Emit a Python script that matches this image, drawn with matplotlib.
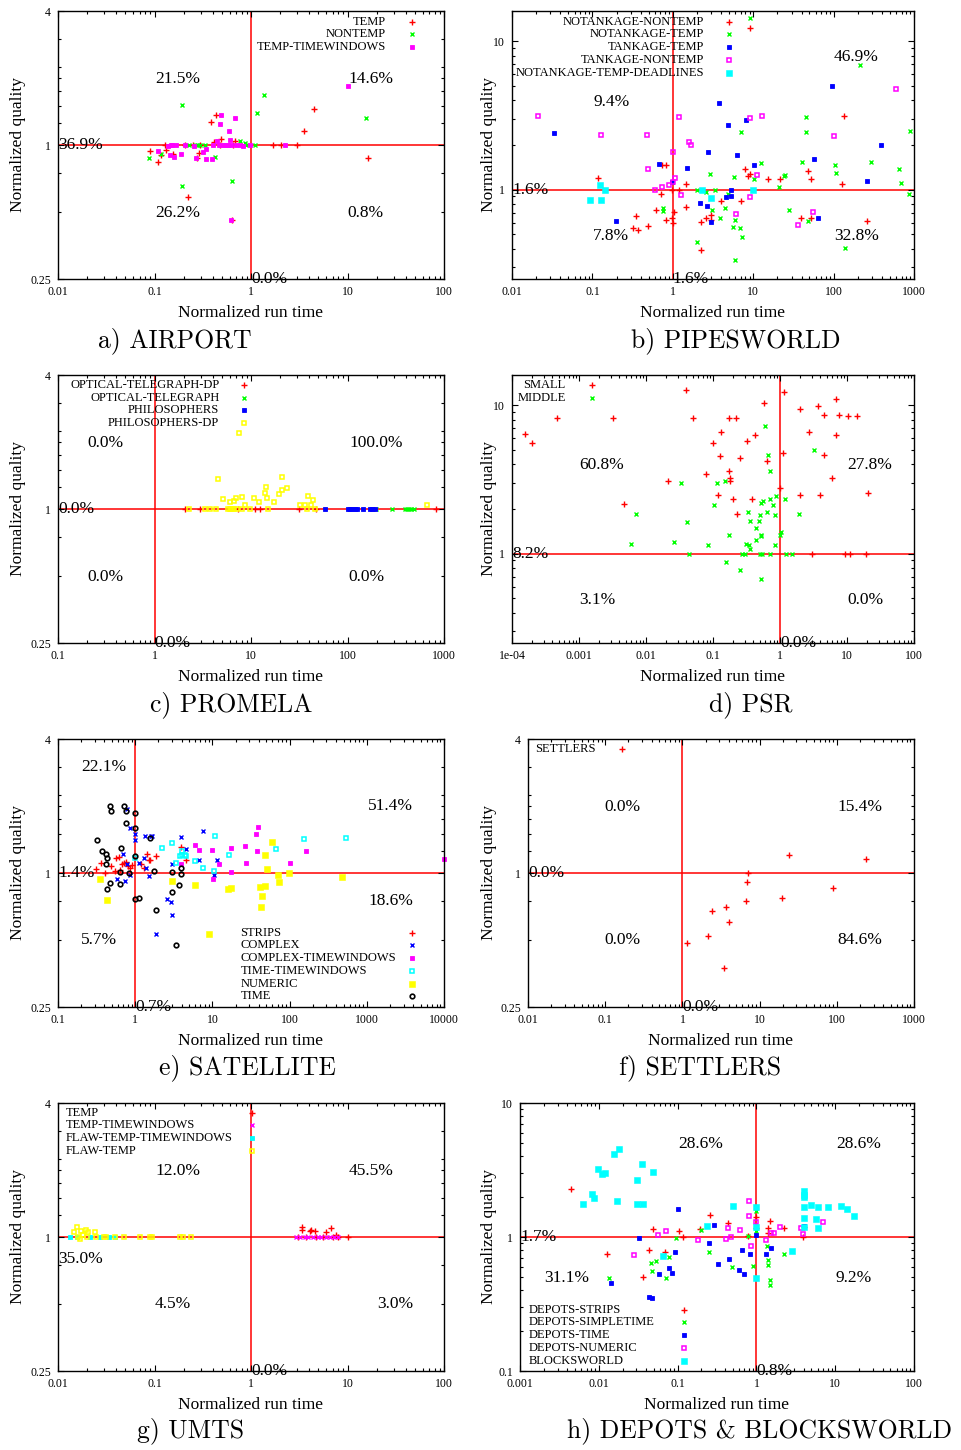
import matplotlib
matplotlib.use('Agg')
import matplotlib.pyplot as plt
from matplotlib.ticker import FixedLocator, NullFormatter, LogLocator
import numpy as np

plt.rcParams['font.family'] = ['Liberation Serif', 'DejaVu Serif']

RED = '#ff0000'
GREEN = '#00ff00'
BLUE = '#0000ff'
MAGENTA = '#ff00ff'
CYAN = '#00ffff'
YELLOW = '#ffff00'
BLACK = '#000000'

# ---------------- a) AIRPORT ----------------
airport_temp_x = [0.090, 0.108, 0.118, 0.127, 0.133, 0.156, 0.222, 0.276, 0.289, 0.251, 0.382, 0.430, 0.493,
                  0.414, 0.473, 0.650, 0.677, 0.641, 1.69, 2.03, 3.00, 3.54, 4.53, 16.2, 0.294, 0.206]
airport_temp_y = [0.943, 0.836, 0.902, 1.0, 0.946, 0.914, 0.582, 0.871, 0.924, 1.0, 1.264, 1.359, 1.064,
                  1.035, 1.0, 1.0, 1.046, 0.460, 1.0, 1.0, 1.0, 1.160, 1.451, 0.877, 1.0, 1.0]
airport_nontemp_x = [0.088, 0.118, 0.191, 0.191, 0.228, 0.278, 0.331, 0.420, 0.641, 0.763, 0.860, 0.895, 1.09,
                     1.16, 1.35, 15.6, 0.294, 0.493, 0.261]
airport_nontemp_y = [0.871, 0.914, 1.513, 0.654, 1.0, 1.0, 1.0, 0.883, 0.687, 1.039, 1.021, 1.0, 1.0,
                     1.393, 1.671, 1.318, 1.0, 1.0, 1.0]
airport_tw_x = [0.108, 0.138, 0.144, 0.153, 0.158, 0.168, 0.190, 0.206, 0.255, 0.272, 0.318, 0.344, 0.344,
                0.391, 0.444, 0.462, 0.481, 0.493, 0.555, 0.591, 0.601, 0.625, 0.677, 0.705, 0.763, 0.826,
                0.969, 2.23, 10.0, 0.620, 0.149, 0.404, 0.513, 0.578]
airport_tw_y = [0.943, 0.986, 0.905, 1.0, 0.880, 1.0, 0.914, 1.0, 0.986, 0.871, 0.927, 0.956, 0.868,
                0.868, 1.039, 1.0, 1.238, 1.359, 1.0, 1.160, 1.057, 1.0, 1.327, 1.0, 1.0, 0.986,
                1.0, 1.0, 1.848, 0.460, 1.0, 1.0, 1.0, 1.0]
airport_pct = ['21.5%', '14.6%', '26.2%', '0.8%', '36.9%', '0.0%']

# ---------------- b) PIPESWORLD ----------------
pipes_nn_x = [0.116, 0.320, 0.373, 0.345, 0.496, 0.624, 0.719, 0.741, 0.831, 0.831, 0.987, 1.0, 1.035, 0.987,
              1.19, 1.47, 1.47, 2.22, 2.61, 3.01, 3.01, 4.01, 6.98, 7.98, 8.70, 9.22, 15.3, 21.3, 39.3, 52.8,
              47.6, 52.8, 129, 135, 262, 2.22, 9.02]
pipes_nn_y = [1.19, 0.553, 0.533, 0.669, 0.565, 0.727, 0.930, 1.464, 1.457, 0.626, 0.646, 0.594, 0.708, 1.0,
              1.0, 1.097, 0.765, 0.601, 0.646, 0.673, 0.626, 0.835, 0.835, 1.376, 1.235, 1.274, 1.173, 1.173,
              0.646, 0.646, 1.327, 1.173, 1.097, 3.15, 0.616, 0.394, 12.3]
pipes_nt_x = [0.748, 0.748, 2.0, 2.56, 2.93, 3.10, 3.32, 3.91, 4.46, 4.91, 5.77, 5.94, 5.61, 6.79, 6.98, 7.33,
              10.2, 12.4, 20.7, 23.9, 24.9, 27.6, 40.4, 45.8, 45.8, 48.0, 104, 106, 137, 211, 295, 646, 684,
              868, 885, 2.0, 6.0, 9.02]
pipes_nt_y = [0.753, 0.723, 1.0, 0.965, 1.274, 0.727, 1.0, 0.642, 0.749, 0.930, 1.222, 0.626, 0.562, 0.550,
              2.44, 0.481, 1.173, 1.502, 1.047, 1.235, 1.254, 0.734, 1.534, 3.07, 2.44, 0.616, 1.464, 1.30,
              0.402, 6.87, 1.534, 1.376, 1.108, 0.935, 2.48, 0.445, 0.334, 14.4]
pipes_tt_x = [0.0336, 0.195, 0.667, 0.987, 1.49, 2.16, 2.69, 2.74, 2.99, 3.76, 4.86, 4.63, 5.25, 5.25, 6.35,
              8.22, 10.2, 56.5, 94.6, 262, 385, 64.6]
pipes_tt_y = [2.40, 0.616, 1.494, 1.126, 1.398, 0.818, 0.777, 1.808, 0.601, 3.81, 2.73, 0.898, 0.907, 1.0,
              1.717, 2.96, 1.471, 1.598, 4.96, 1.149, 2.0, 0.646]
pipes_tn_x = [0.0208, 0.129, 0.478, 0.491, 0.607, 0.727, 0.897, 1.0, 1.0, 1.065, 1.18, 1.26, 1.57, 1.68, 6.05,
              9.22, 9.22, 11.0, 12.7, 36.1, 56.0, 101, 603]
pipes_tn_y = [3.14, 2.34, 2.35, 1.369, 1.0, 1.047, 1.069, 1.12, 1.80, 1.204, 3.09, 0.916, 2.08, 2.0, 0.683,
              0.888, 3.06, 1.254, 3.14, 0.579, 0.712, 2.30, 4.79]
pipes_dl_x = [0.0933, 0.125, 0.129, 0.143, 2.33, 3.01, 9.93]
pipes_dl_y = [0.857, 1.08, 0.857, 1.0, 1.0, 0.879, 1.0]
pipes_pct = ['9.4%', '46.9%', '7.8%', '32.8%', '1.6%', '1.6%']

# ---------------- c) PROMELA ----------------
prom_otdp_x = [2.05, 2.94, 7.33, 11.1, 12.5, 31.4, 47.5, 819]
prom_otdp_y = [1.0, 1.0, 1.0, 1.0, 1.0, 1.0, 1.0, 1.0]
prom_ot_x = [199, 292, 391, 414, 434, 459, 485]
prom_ot_y = [1.0, 1.0, 1.0, 1.0, 1.0, 1.0, 1.0]
prom_ph_x = [58.0, 101, 107, 112, 119, 125, 145, 173, 181, 191]
prom_ph_y = [1.0, 1.0, 1.0, 1.0, 1.0, 1.0, 1.0, 1.0, 1.0, 1.0]
prom_phdp_x = [2.26, 3.31, 3.79, 4.31, 4.52, 5.13, 6.01, 6.11, 6.41, 6.61, 6.99, 7.16, 7.45, 8.13, 8.07, 8.60,
               9.68, 10.8, 12.0, 14.2, 14.0, 14.7, 15.1, 17.2, 19.5, 21.0, 21.1, 23.4, 31.9, 36.0, 38.0, 38.9,
               42.2, 43.9, 45.7, 672, 5.8, 6.2, 6.6]
prom_phdp_y = [1.0, 1.0, 1.0, 1.0, 1.359, 1.105, 1.0, 1.071, 1.0, 1.090, 1.124, 1.0, 2.195, 1.128, 1.0, 1.046,
               1.0, 1.117, 1.071, 1.251, 1.180, 1.117, 1.0, 1.075, 1.164, 1.222, 1.393, 1.242, 1.042, 1.042,
               1.0, 1.144, 1.042, 1.094, 1.0, 1.039, 1.0, 1.0, 1.0]
prom_pct = ['0.0%', '100.0%', '0.0%', '0.0%', '0.0%', '0.0%']

# ---------------- d) PSR ----------------
psr_small_x = [1.55e-4, 1.99e-4, 4.69e-4, 3.25e-3, 4.70e-3, 0.0216, 0.0396, 0.0498, 0.0795, 0.1, 0.117, 0.129,
               0.133, 0.173, 0.175, 0.181, 0.181, 0.201, 0.220, 0.231, 0.250, 0.318, 0.378, 0.424, 0.577, 0.647,
               1.0, 1.10, 1.15, 1.97, 2.01, 2.68, 3.01, 3.65, 3.95, 4.48, 4.48, 5.97, 6.78, 6.93, 7.51, 9.45,
               10.5, 11.0, 13.9, 19.4, 20.8]
psr_small_y = [6.36, 5.54, 8.23, 8.27, 2.17, 3.08, 12.7, 8.19, 3.43, 5.54, 2.48, 4.55, 6.56, 3.61, 8.19, 3.26,
               3.11, 2.34, 8.19, 1.86, 4.42, 5.71, 2.34, 6.33, 10.3, 4.24, 2.75, 4.75, 12.2, 9.45, 2.50, 6.56,
               1.0, 9.85, 2.50, 8.66, 4.65, 3.26, 11.0, 6.33, 8.66, 1.0, 8.44, 1.0, 8.44, 1.0, 2.57]
psr_middle_x = [5.9e-3, 7.09e-3, 0.0262, 0.0337, 0.0405, 0.0438, 0.0842, 0.105, 0.115, 0.149, 0.158, 0.173,
                0.250, 0.274, 0.300, 0.307, 0.337, 0.345, 0.353, 0.361, 0.433, 0.433, 0.486, 0.497, 0.508,
                0.515, 0.520, 0.526, 0.526, 0.532, 0.557, 0.604, 0.647, 0.662, 0.701, 0.710, 0.710, 0.787,
                0.832, 0.842, 0.871, 1.0, 1.02, 1.19, 1.24, 1.49, 1.92, 3.18]
psr_middle_y = [1.16, 1.85, 1.20, 3.00, 1.64, 1.0, 1.14, 2.13, 3.00, 3.11, 0.875, 1.34, 0.781, 1.0, 1.0, 1.17,
                1.92, 1.14, 1.07, 1.67, 1.50, 1.24, 1.65, 1.0, 1.82, 0.670, 2.18, 1.34, 1.31, 1.0, 2.26, 7.23,
                1.92, 4.60, 2.35, 1.0, 3.58, 2.13, 1.15, 1.81, 2.46, 1.34, 1.41, 2.34, 1.0, 1.0, 1.85, 4.97]
psr_pct = ['60.8%', '27.8%', '3.1%', '0.0%', '8.2%', '0.0%']

# ---------------- e) SATELLITE ----------------
sat_strips_x = [0.314, 0.361, 0.402, 0.491, 0.553, 0.570, 0.611, 0.642, 0.675, 0.709, 0.767, 0.807, 0.865,
                0.909, 1.20, 1.29, 1.44, 1.49, 1.57, 1.86, 3.96, 4.51]
sat_strips_y = [1.042, 1.109, 1.0, 1.072, 1.021, 1.164, 1.180, 1.032, 1.094, 1.109, 1.125, 1.079, 1.057,
                1.087, 1.094, 1.050, 1.214, 1.144, 1.141, 1.197, 1.314, 1.144]
sat_complex_x = [0.581, 0.695, 0.745, 0.791, 0.848, 0.791, 0.865, 0.984, 0.984, 1.12, 1.29, 1.35, 1.39, 1.49,
                 1.62, 1.67, 2.58, 2.91, 3.0, 3.0, 3.88, 4.51, 6.70, 7.55, 1.84, 10.6, 11.5]
sat_complex_y = [0.940, 1.214, 0.924, 1.094, 1.600, 1.942, 0.979, 1.408, 1.499, 1.109, 1.164, 1.468, 1.050,
                 0.966, 1.468, 1.468, 0.766, 0.743, 0.647, 1.094, 1.453, 1.282, 1.141, 1.551, 0.530, 0.976,
                 1.141]
sat_ctw_x = [3.96, 6.01, 6.70, 9.98, 10.2, 12.1, 17.2, 17.4, 26.2, 27.0, 37.1, 38.2, 39.4, 101, 161, 10000]
sat_ctw_y = [1.094, 1.332, 1.274, 1.265, 0.940, 1.101, 1.300, 1.007, 1.328, 1.105, 1.493, 1.256, 1.617, 1.105,
             1.256, 1.152]
sat_ttw_x = [0.984, 2.22, 2.97, 3.41, 3.77, 4.0, 4.08, 4.38, 4.51, 5.96, 7.55, 10.5, 10.9, 16.4, 66.7, 155, 543]
sat_ttw_y = [1.164, 1.300, 1.370, 1.113, 1.197, 1.261, 1.205, 1.205, 1.189, 1.133, 1.050, 1.021, 1.463, 1.205,
             1.278, 1.428, 1.438]
sat_num_x = [0.351, 0.427, 3.0, 5.95, 9.04, 16.1, 17.4, 41.8, 44.3, 47.5, 48.0, 50.9, 43.0, 59.2, 70.8, 72.9,
             98.3, 477]
sat_num_y = [0.943, 0.758, 0.917, 0.880, 0.530, 0.850, 0.859, 0.868, 0.791, 0.877, 1.205, 1.046, 0.705, 1.384,
             0.983, 0.907, 1.003, 0.963]
sat_time_x = [0.320, 0.372, 0.423, 0.436, 0.414, 0.431, 0.467, 0.486, 0.467, 0.642, 0.642, 0.661, 0.709, 0.767,
              0.760, 0.832, 0.984, 0.984, 0.984, 0.984, 1.12, 1.54, 1.75, 1.86, 2.97, 2.97, 3.34, 3.73, 3.96,
              3.96]
sat_time_y = [1.404, 1.252, 1.214, 1.164, 1.094, 0.847, 1.997, 1.902, 0.905, 1.014, 0.892, 1.292, 2.01, 1.902,
              1.680, 0.995, 1.857, 1.595, 1.193, 0.761, 0.774, 1.443, 1.021, 0.681, 1.007, 0.819, 0.477, 0.880,
              0.990, 1.050]
sat_pct = ['22.1%', '51.4%', '5.7%', '18.6%', '1.4%', '0.7%']

# ---------------- f) SETTLERS ----------------
settlers_x = [1.15, 2.15, 2.40, 3.42, 3.63, 4.05, 6.59, 6.93, 7.06, 19.6, 23.7, 88.8, 239]
settlers_y = [0.486, 0.521, 0.672, 0.376, 0.703, 0.602, 0.751, 0.908, 1.0, 0.774, 1.205, 0.856, 1.152]
settlers_pct = ['0.0%', '15.4%', '0.0%', '84.6%', '0.0%', '0.0%']

# ---------------- g) UMTS ----------------
umts_temp_x = [3.07, 3.38, 3.38, 4.05, 4.22, 4.57, 6.04, 6.70, 7.54, 10.1, 3.74, 4.76, 5.57, 7.06, 7.96]
umts_temp_y = [1.0, 1.113, 1.075, 1.060, 1.075, 1.060, 1.049, 1.101, 1.024, 1.0, 1.0, 1.0, 1.0, 1.0, 1.0]
umts_tw_x = [2.95, 3.19, 3.60, 3.90, 4.38, 4.94, 5.35, 5.94, 6.52, 7.19, 7.96]
umts_tw_y = [1.0, 1.0, 1.0, 1.0, 1.0, 1.0, 1.0, 1.0, 1.0, 1.0, 1.0]
umts_ftw_x = [0.0132, 0.0157, 0.0213, 0.0270, 0.0335, 0.0387]
umts_ftw_y = [1.0, 1.0, 1.0, 1.0, 1.0, 1.0]
umts_ft_x = [0.0145, 0.0157, 0.0161, 0.0168, 0.0175, 0.0182, 0.0194, 0.0200, 0.0205, 0.0240, 0.0250, 0.0297,
             0.0317, 0.0393, 0.0483, 0.0713, 0.0891, 0.0942, 0.182, 0.197, 0.241]
umts_ft_y = [1.05, 1.105, 0.995, 0.980, 1.068, 1.024, 1.075, 0.995, 1.05, 1.05, 1.0, 1.0, 1.0, 1.0, 1.0, 1.0,
             1.0, 1.0, 1.0, 1.0, 1.0]
umts_pct = ['12.0%', '45.5%', '4.5%', '3.0%', '35.0%', '0.0%']

# ---------------- h) DEPOTS & BLOCKSWORLD ----------------
dep_strips_x = [0.00439, 0.01268, 0.0366, 0.0436, 0.0486, 0.0696, 0.105, 0.118, 0.191, 0.254, 0.434, 0.793,
                1.0, 1.0, 1.40, 1.42, 1.48, 2.25, 3.92, 4.03]
dep_strips_y = [2.27, 0.742, 0.499, 0.795, 1.148, 0.777, 1.115, 1.0, 1.154, 1.452, 1.265, 1.023, 1.403, 1.168,
                1.161, 1.065, 1.310, 1.161, 1.0, 1.181]
dep_simple_x = [0.01345, 0.0458, 0.0476, 0.0535, 0.0710, 0.0783, 0.0942, 0.201, 0.252, 0.492, 0.778, 0.909,
                1.0, 1.0, 1.38, 1.41, 1.42, 1.49, 1.49, 2.22]
dep_simple_y = [0.496, 0.635, 0.557, 0.658, 0.491, 0.713, 0.977, 1.122, 0.768, 0.593, 1.017, 0.603, 1.574,
                1.109, 0.861, 0.669, 0.621, 0.477, 0.435, 0.742]
dep_time_x = [0.01429, 0.0326, 0.0436, 0.0476, 0.0579, 0.0767, 0.0846, 0.0933, 0.102, 0.252, 0.291, 0.324,
              0.451, 0.604, 0.659, 0.692, 0.824, 1.0, 1.32, 1.51, 3.99]
dep_time_y = [0.450, 0.977, 0.358, 0.352, 0.526, 0.590, 0.535, 0.768, 1.611, 0.897, 1.230, 0.624, 0.689, 0.570,
              0.795, 0.526, 0.750, 1.035, 0.750, 0.832, 1.216]
dep_num_x = [0.0282, 0.0568, 0.0717, 0.179, 0.417, 0.434, 0.473, 0.628, 0.809, 0.809, 0.858, 1.0, 1.33, 1.51,
             1.66, 2.02, 3.72, 3.92, 7.02]
dep_num_y = [0.733, 1.029, 1.109, 0.955, 0.961, 1.161, 0.995, 1.122, 1.849, 1.444, 0.851, 1.302, 0.955, 1.077,
             1.077, 1.188, 1.161, 1.059, 1.302]
blocks_x = [0.00635, 0.00826, 0.00875, 0.00984, 0.01094, 0.0121, 0.0157, 0.0171, 0.0182, 0.0302, 0.0308,
            0.0349, 0.0359, 0.0481, 0.0657, 0.239, 0.512, 1.0, 1.0, 1.0, 2.84, 4.07, 4.07, 4.07, 4.07, 4.07,
            4.07, 4.89, 5.78, 6.12, 6.12, 8.12, 11.9, 14.2, 17.5]
blocks_y = [1.766, 2.085, 1.958, 3.23, 2.93, 3.01, 4.18, 1.859, 4.55, 1.766, 2.67, 3.52, 1.766, 3.08, 0.717,
            1.208, 1.706, 1.686, 1.195, 0.494, 0.786, 2.22, 2.06, 1.98, 1.686, 1.387, 1.181, 1.735, 1.364,
            1.686, 1.175, 1.686, 1.706, 1.620, 1.436]
depots_pct = ['28.6%', '28.6%', '31.1%', '9.2%', '1.7%', '0.8%']

# gnuplot-like point types
MK = {
    'plus': dict(marker='+', ms=4.4, mew=1.0),
    'cross': dict(marker='x', ms=3.4, mew=1.0),
    'star': dict(marker='s', ms=3.0, mew=0.6),
    'box': dict(marker='s', ms=3.4, mew=1.1, mfc='none'),
    'fbox': dict(marker='s', ms=3.9, mew=0.4),
    'circle': dict(marker='o', ms=3.3, mew=1.2, mfc='none'),
}

Y_B2 = ([0.25, 1, 4], ['0.25', '1', '4'])
Y_B2_MINOR = [0.5, 0.75, 1.25, 1.5, 1.75, 2, 2.25, 3]
Y_16 = ([1, 10], ['1', '10'])


def rect(l, t, r, b):
    return [l / 961, 1 - b / 1450, (r - l) / 961, (b - t) / 1450]


panels = [
    dict(rect=rect(58, 11, 444, 279), xlim=(0.01, 100), ylim=(0.25, 4),
         xt=[0.01, 0.1, 1, 10, 100], xl=['0.01', '0.1', '1', '10', '100'], yt=Y_B2, b2=True,
         series=[('TEMP', airport_temp_x, airport_temp_y, RED, 'plus'),
                 ('NONTEMP', airport_nontemp_x, airport_nontemp_y, GREEN, 'cross'),
                 ('TEMP-TIMEWINDOWS', airport_tw_x, airport_tw_y, MAGENTA, 'star')],
         key=(0.850, 0.917, 0.960, 'right'), pct=airport_pct,
         pos=[(0.251, 0.746), (0.752, 0.746), (0.251, 0.245), (0.750, 0.245)], left_y=None,
         ylab=-0.104, cap='a) AIRPORT', cap_xy=(175, 341)),
    dict(rect=rect(512, 11, 914, 279), xlim=(0.01, 1000), ylim=(0.25, 16),
         xt=[0.01, 0.1, 1, 10, 100, 1000], xl=['0.01', '0.1', '1', '10', '100', '1000'], yt=Y_16, b2=False,
         series=[('NOTANKAGE-NONTEMP', pipes_nn_x, pipes_nn_y, RED, 'plus'),
                 ('NOTANKAGE-TEMP', pipes_nt_x, pipes_nt_y, GREEN, 'cross'),
                 ('TANKAGE-TEMP', pipes_tt_x, pipes_tt_y, BLUE, 'star'),
                 ('TANKAGE-NONTEMP', pipes_tn_x, pipes_tn_y, MAGENTA, 'box'),
                 ('NOTANKAGE-TEMP-DEADLINES', pipes_dl_x, pipes_dl_y, CYAN, 'fbox')],
         key=(0.478, 0.541, 0.960, 'right'), pct=pipes_pct,
         pos=[(0.202, 0.662), (0.801, 0.830), (0.202, 0.162), (0.801, 0.162)], left_y=None,
         ylab=-0.057, cap='b) PIPESWORLD', cap_xy=(736, 341)),
    dict(rect=rect(58, 375, 444, 643), xlim=(0.1, 1000), ylim=(0.25, 4),
         xt=[0.1, 1, 10, 100, 1000], xl=['0.1', '1', '10', '100', '1000'], yt=Y_B2, b2=True,
         series=[('OPTICAL-TELEGRAPH-DP', prom_otdp_x, prom_otdp_y, RED, 'plus'),
                 ('OPTICAL-TELEGRAPH', prom_ot_x, prom_ot_y, GREEN, 'cross'),
                 ('PHILOSOPHERS', prom_ph_x, prom_ph_y, BLUE, 'star'),
                 ('PHILOSOPHERS-DP', prom_phdp_x, prom_phdp_y, YELLOW, 'box')],
         key=(0.418, 0.483, 0.963, 'right'), pct=prom_pct,
         pos=[(0.076, 0.747), (0.754, 0.747), (0.076, 0.247), (0.751, 0.247)], left_y=None,
         ylab=-0.104, cap='c) PROMELA', cap_xy=(231, 705)),
    dict(rect=rect(512, 375, 914, 643), xlim=(1e-4, 100), ylim=(0.25, 16),
         xt=[1e-4, 1e-3, 0.01, 0.1, 1, 10, 100], xl=['1e-04', '0.001', '0.01', '0.1', '1', '10', '100'],
         yt=Y_16, b2=False,
         series=[('SMALL', psr_small_x, psr_small_y, RED, 'plus'),
                 ('MIDDLE', psr_middle_x, psr_middle_y, GREEN, 'cross')],
         key=(0.134, 0.198, 0.963, 'right'), pct=psr_pct,
         pos=[(0.167, 0.664), (0.834, 0.664), (0.167, 0.160), (0.834, 0.160)], left_y=None,
         ylab=-0.057, cap='d) PSR', cap_xy=(751, 705)),
    dict(rect=rect(58, 739, 444, 1007), xlim=(0.1, 10000), ylim=(0.25, 4),
         xt=[0.1, 1, 10, 100, 1000, 10000], xl=['0.1', '1', '10', '100', '1000', '10000'], yt=Y_B2, b2=True,
         series=[('STRIPS', sat_strips_x, sat_strips_y, RED, 'plus'),
                 ('COMPLEX', sat_complex_x, sat_complex_y, BLUE, 'cross'),
                 ('COMPLEX-TIMEWINDOWS', sat_ctw_x, sat_ctw_y, MAGENTA, 'star'),
                 ('TIME-TIMEWINDOWS', sat_ttw_x, sat_ttw_y, CYAN, 'box'),
                 ('NUMERIC', sat_num_x, sat_num_y, YELLOW, 'fbox'),
                 ('TIME', sat_time_x, sat_time_y, BLACK, 'circle')],
         key=(0.473, 0.917, 0.277, 'left'), pct=sat_pct,
         pos=[(0.060, 0.896), (0.802, 0.749), (0.060, 0.249), (0.804, 0.394)], left_y=None,
         ylab=-0.104, cap='e) SATELLITE', cap_xy=(247, 1068)),
    dict(rect=rect(528, 739, 914, 1007), xlim=(0.01, 1000), ylim=(0.25, 4),
         xt=[0.01, 0.1, 1, 10, 100, 1000], xl=['0.01', '0.1', '1', '10', '100', '1000'], yt=Y_B2, b2=True,
         series=[('SETTLERS', settlers_x, settlers_y, RED, 'plus')],
         key=(0.018, 0.244, 0.963, 'left'), pct=settlers_pct,
         pos=[(0.199, 0.747), (0.802, 0.747), (0.199, 0.249), (0.802, 0.249)], left_y=None,
         ylab=-0.100, cap='f) SETTLERS', cap_xy=(700, 1068)),
    dict(rect=rect(58, 1103, 444, 1371), xlim=(0.01, 100), ylim=(0.25, 4),
         xt=[0.01, 0.1, 1, 10, 100], xl=['0.01', '0.1', '1', '10', '100'], yt=Y_B2, b2=True,
         series=[('TEMP', umts_temp_x, umts_temp_y, RED, 'plus'),
                 ('TEMP-TIMEWINDOWS', umts_tw_x, umts_tw_y, MAGENTA, 'cross'),
                 ('FLAW-TEMP-TIMEWINDOWS', umts_ftw_x, umts_ftw_y, CYAN, 'star'),
                 ('FLAW-TEMP', umts_ft_x, umts_ft_y, YELLOW, 'box')],
         key=(0.021, 0.503, 0.964, 'left'), pct=umts_pct,
         pos=[(0.253, 0.747), (0.752, 0.747), (0.250, 0.249), (0.827, 0.249)], left_y=0.418,
         ylab=-0.104, cap='g) UMTS', cap_xy=(191, 1431)),
    dict(rect=rect(520, 1103, 914, 1371), xlim=(0.001, 100), ylim=(0.1, 10),
         xt=[0.001, 0.01, 0.1, 1, 10, 100], xl=['0.001', '0.01', '0.1', '1', '10', '100'],
         yt=([0.1, 1, 10], ['0.1', '1', '10']), b2=False,
         series=[('DEPOTS-STRIPS', dep_strips_x, dep_strips_y, RED, 'plus'),
                 ('DEPOTS-SIMPLETIME', dep_simple_x, dep_simple_y, GREEN, 'cross'),
                 ('DEPOTS-TIME', dep_time_x, dep_time_y, BLUE, 'star'),
                 ('DEPOTS-NUMERIC', dep_num_x, dep_num_y, MAGENTA, 'box'),
                 ('BLOCKSWORLD', blocks_x, blocks_y, CYAN, 'fbox')],
         key=(0.021, 0.415, 0.229, 'left'), pct=depots_pct,
         pos=[(0.401, 0.847), (0.802, 0.847), (0.062, 0.348), (0.802, 0.348)], left_y=None,
         ylab=-0.079, cap='h) DEPOTS & BLOCKSWORLD', cap_xy=(760, 1431)),
]

fig = plt.figure(figsize=(9.61, 14.5), dpi=100)

for p in panels:
    ax = fig.add_axes(p['rect'])
    ax.set_xscale('log')
    ax.set_yscale('log')

    ax.axhline(1, color=RED, lw=1.1, zorder=1)
    ax.axvline(1, color=RED, lw=1.1, zorder=1)

    for lab, xs, ys, col, mk in p['series']:
        ax.plot(xs, ys, linestyle='none', color=col, zorder=2, clip_on=False, **MK[mk])

    # key: text then point sample, gnuplot style
    tx, mx, y0, ha = p['key']
    for i, (lab, xs, ys, col, mk) in enumerate(p['series']):
        ry = y0 - 0.0475 * i
        ax.text(tx, ry, lab, transform=ax.transAxes, ha=ha, va='center', fontsize=9, zorder=4)
        ax.plot([mx], [ry], transform=ax.transAxes, linestyle='none', color=col, clip_on=False,
                zorder=4, **MK[mk])

    # quadrant percentages
    for s, (px, py) in zip(p['pct'][:4], p['pos']):
        ax.text(px, py, s, transform=ax.transAxes, ha='left', va='center', fontsize=12.5, zorder=5)
    if p['left_y'] is None:
        ax.text(0.0, 1.0, p['pct'][4], transform=ax.get_yaxis_transform(), ha='left', va='center',
                fontsize=12.5, zorder=5)
    else:
        ax.text(0.0, p['left_y'], p['pct'][4], transform=ax.transAxes, ha='left', va='center',
                fontsize=12.5, zorder=5)
    ax.text(1.0, 0.0, p['pct'][5], transform=ax.get_xaxis_transform(), ha='left', va='center',
            fontsize=12.5, zorder=5, clip_on=False)

    ax.set_xlim(*p['xlim'])
    ax.set_ylim(*p['ylim'])
    ax.set_xticks(p['xt'], p['xl'])
    ax.xaxis.set_minor_locator(LogLocator(base=10, subs=np.arange(2, 10) * 1.0, numticks=30))
    ax.set_yticks(p['yt'][0], p['yt'][1])
    if p['b2']:
        ax.yaxis.set_minor_locator(FixedLocator(Y_B2_MINOR))
    else:
        ax.yaxis.set_minor_locator(LogLocator(base=10, subs=np.arange(2, 10) * 1.0, numticks=30))
    ax.xaxis.set_minor_formatter(NullFormatter())
    ax.yaxis.set_minor_formatter(NullFormatter())

    ax.tick_params(which='both', direction='in', top=True, right=True, labelsize=8.5, width=0.8, pad=5)
    ax.tick_params(which='major', length=4.5)
    ax.tick_params(which='minor', length=2.2)
    for sp in ax.spines.values():
        sp.set_linewidth(1.0)

    ax.set_xlabel('Normalized run time', fontsize=12.5, va='center')
    ax.xaxis.set_label_coords(0.5, -0.126)
    ax.set_ylabel('Normalized quality', fontsize=12.5, va='center')
    ax.yaxis.set_label_coords(p['ylab'], 0.5)

    cx, cy = p['cap_xy']
    fig.text(cx / 961, 1 - cy / 1450, p['cap'], family='cmr10', fontsize=18.5, ha='center', va='center')

fig.savefig('out.png', dpi=100)
